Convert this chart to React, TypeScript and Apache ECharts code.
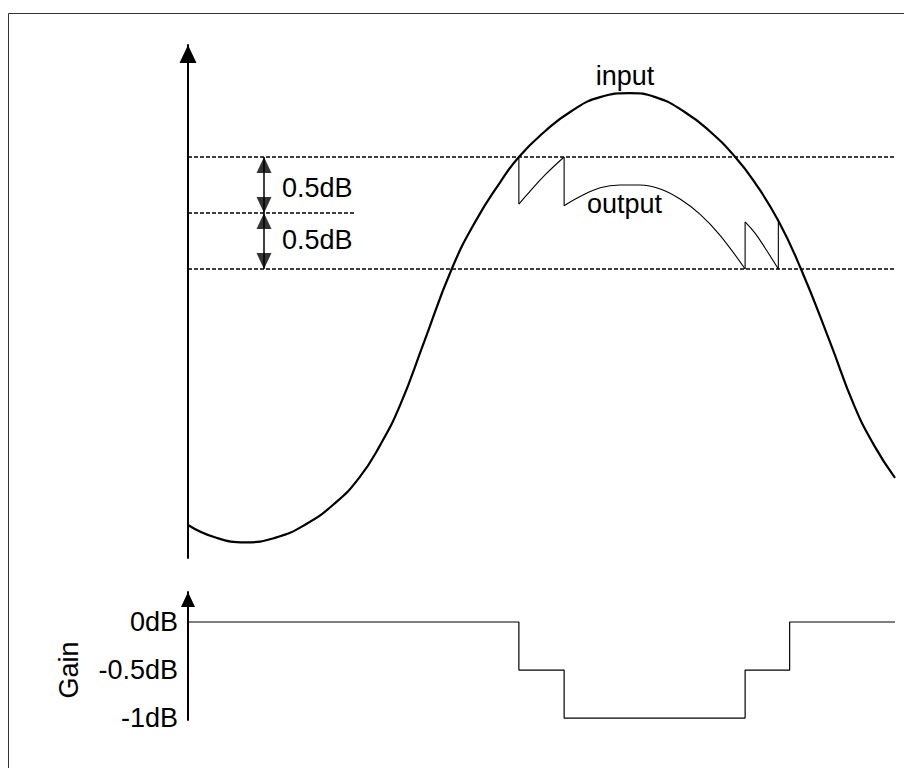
import React, { useEffect, useRef } from "react";
import * as echarts from "echarts";

// time axis (0..100) and level axis (threshold steps of 0.5dB = 1 unit)
const inputT = [0.0, 3.8, 8.1, 12.3, 16.5, 20.8, 24.2, 27.2, 30.0, 33.4, 37.3, 40.7, 44.1, 46.8, 50.5, 54.0, 58.3, 62.5, 66.1, 70.3, 73.8, 77.4, 80.2, 83.5, 86.7, 90.8, 94.2, 97.0, 100.0];
const inputU = [-3.57, -3.79, -3.88, -3.8, -3.57, -3.18, -2.73, -2.14, -1.43, -0.3, 1.0, 1.86, 2.54, 3.0, 3.46, 3.8, 4.07, 4.14, 4.07, 3.8, 3.46, 3.0, 2.54, 1.86, 1.0, -0.3, -1.43, -2.14, -2.73];

const outputT = [46.8, 46.8, 48.4, 50.5, 53.2, 53.2, 55.4, 58.3, 61.1, 63.9, 66.8, 69.6, 72.4, 75.2, 78.8, 78.8, 80.2, 81.6, 83.5, 83.5];
const outputU = [3.0, 2.16, 2.39, 2.68, 3.0, 2.13, 2.29, 2.45, 2.5, 2.5, 2.43, 2.25, 1.98, 1.61, 1.0, 1.84, 1.64, 1.38, 1.0, 1.86];

const thresholdLevels = [3, 2, 1];
const thresholdEnds = [100, 23.6, 100];
const arrowT = 10.75;
const arrowLabel = "0.5dB";

const gainT = [0, 46.8, 53.2, 78.8, 85.1, 100];
const gainDb = [0, -0.5, -1, -0.5, 0, 0];
const gainTicks = [0, -0.5, -1];

const FONT = "Liberation Sans";
const FS = 27;

export default function App() {
  const ref = useRef<HTMLDivElement>(null);
  useEffect(() => {
    if (!ref.current) return;
    const chart = echarts.init(ref.current, null, { renderer: "svg" });

    const outPts = outputT.map((t, i) => [t, outputU[i]]);
    const pieces: number[][][] = [];
    const verticals: number[][][] = [];
    let cur: number[][] = [];
    outPts.forEach((p, i) => {
      if (i > 0 && p[0] === outPts[i - 1][0]) {
        verticals.push([outPts[i - 1], p]);
        if (cur.length > 1) pieces.push(cur);
        cur = [p];
      } else {
        cur.push(p);
      }
    });
    if (cur.length > 1) pieces.push(cur);

    const black = "#000";
    const series: any[] = [];

    thresholdLevels.forEach((lv, i) => {
      series.push({
        type: "line", xAxisIndex: 0, yAxisIndex: 0, symbol: "none", silent: true,
        data: [[0, lv], [thresholdEnds[i], lv]],
        lineStyle: { color: black, width: 1.3, type: [4, 2] },
      });
    });

    pieces.forEach((pc) => {
      series.push({
        type: "line", xAxisIndex: 0, yAxisIndex: 0, symbol: "none", smooth: 0.4, silent: true,
        data: pc, lineStyle: { color: black, width: 1.1 },
      });
    });
    verticals.forEach((v) => {
      series.push({
        type: "line", xAxisIndex: 0, yAxisIndex: 0, symbol: "none", silent: true,
        data: v, lineStyle: { color: black, width: 1.1 },
      });
    });

    series.push({
      type: "line", name: "input", xAxisIndex: 0, yAxisIndex: 0, symbol: "none", smooth: 0.5, silent: true,
      data: inputT.map((t, i) => [t, inputU[i]]),
      lineStyle: { color: black, width: 2.2 }, z: 5,
    });

    // double arrows
    series.push({
      type: "line", xAxisIndex: 0, yAxisIndex: 0, symbol: "none", silent: true,
      data: [[arrowT, thresholdLevels[0]], [arrowT, thresholdLevels[2]]],
      lineStyle: { color: black, width: 1.5 },
    });
    series.push({
      type: "scatter", xAxisIndex: 0, yAxisIndex: 0, silent: true,
      symbol: "triangle", symbolSize: [15, 16], symbolOffset: [0, "50%"],
      itemStyle: { color: black },
      data: [[arrowT, thresholdLevels[0]], [arrowT, thresholdLevels[1]]],
    });
    series.push({
      type: "scatter", xAxisIndex: 0, yAxisIndex: 0, silent: true,
      symbol: "triangle", symbolSize: [15, 16], symbolRotate: 180, symbolOffset: [0, "-50%"],
      itemStyle: { color: black },
      data: [[arrowT, thresholdLevels[1]], [arrowT, thresholdLevels[2]]],
    });

    series.push({
      type: "line", name: "Gain", xAxisIndex: 1, yAxisIndex: 1, symbol: "none", step: "end", silent: true,
      data: gainT.map((t, i) => [t, gainDb[i]]),
      lineStyle: { color: black, width: 1.2 },
    });

    const txt = (x: number, y: number, text: string, align = "left", rotation = 0) => ({
      type: "text", x, y, rotation, silent: true,
      style: { text, fill: black, font: `${FS}px "${FONT}"`, align, verticalAlign: "middle" },
    });

    chart.setOption({
      animation: false,
      textStyle: { fontFamily: FONT },
      grid: [
        { left: 180, right: 17, top: 37, bottom: 210 },
        { left: 180, right: 17, top: 584, bottom: 48 },
      ],
      xAxis: [
        { gridIndex: 0, type: "value", min: 0, max: 100, show: false },
        { gridIndex: 1, type: "value", min: 0, max: 100, show: false },
      ],
      yAxis: [
        {
          gridIndex: 0, type: "value", min: -4.16, max: 5,
          axisLine: { show: true, lineStyle: { color: black, width: 2 }, symbol: ["none", "triangle"], symbolSize: [17, 18], symbolOffset: [0, -9] },
          axisTick: { show: false }, axisLabel: { show: false }, splitLine: { show: false },
        },
        {
          gridIndex: 1, type: "value", min: -1.02, max: 0.3125,
          axisLine: { show: true, lineStyle: { color: black, width: 2 }, symbol: ["none", "triangle"], symbolSize: [14, 15], symbolOffset: [0, -7.5] },
          axisTick: { show: false }, splitLine: { show: false },
          axisLabel: {
            customValues: gainTicks, formatter: (v: number) => `${v}dB`,
            fontSize: FS, fontFamily: FONT, color: black, margin: 10,
          },
        },
      ],
      graphic: [
        { type: "rect", shape: { x: 0.5, y: 5.5, width: 920, height: 800 }, style: { fill: "none", stroke: "#333", lineWidth: 1 }, silent: true },
        txt(617, 68, "input", "center"),
        txt(579, 196, "output"),
        txt(274, 180, arrowLabel),
        txt(274, 232, arrowLabel),
        txt(61, 662, "Gain", "center", Math.PI / 2),
      ],
      series,
    });
    return () => chart.dispose();
  }, []);
  return <div ref={ref} style={{ width: 904, height: 760 }} />;
}
